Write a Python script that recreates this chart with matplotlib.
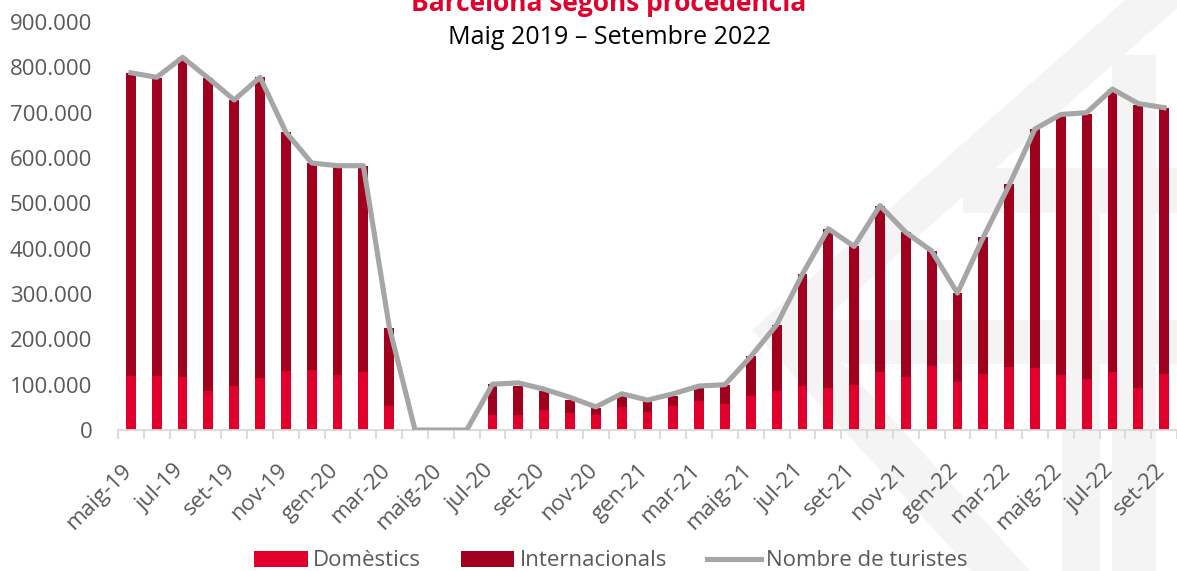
import numpy as np
import matplotlib.pyplot as plt
from matplotlib.patches import Patch, Polygon
from matplotlib.lines import Line2D
from matplotlib.transforms import ScaledTranslation

plt.rcParams['font.family'] = ['Open Sans', 'DejaVu Sans']

# mesos, maig 2019 - setembre 2022
mesos = ['maig-19', 'jun-19', 'jul-19', 'ago-19', 'set-19', 'oct-19', 'nov-19', 'des-19',
         'gen-20', 'feb-20', 'mar-20', 'abr-20', 'maig-20', 'jun-20', 'jul-20', 'ago-20',
         'set-20', 'oct-20', 'nov-20', 'des-20', 'gen-21', 'feb-21', 'mar-21', 'abr-21',
         'maig-21', 'jun-21', 'jul-21', 'ago-21', 'set-21', 'oct-21', 'nov-21', 'des-21',
         'gen-22', 'feb-22', 'mar-22', 'abr-22', 'maig-22', 'jun-22', 'jul-22', 'ago-22',
         'set-22']

# milers de turistes
domestics = [120, 120, 118, 86, 98, 114, 130, 132, 122, 127, 54, 0, 0, 0, 33, 33,
             44, 37, 33, 51, 40, 53, 63, 57, 74, 87, 98, 93, 99, 129, 118, 142,
             105, 123, 138, 137, 122, 113, 127, 93, 123]
internacionals = [667, 656, 704, 690, 630, 664, 527, 457, 459, 456, 172, 0, 0, 0, 68, 64,
                  41, 29, 16, 23, 23, 21, 29, 42, 89, 145, 246, 351, 306, 366, 318, 253,
                  197, 302, 404, 527, 570, 585, 625, 625, 587]
turistes = [788, 778, 822, 776, 728, 778, 657, 589, 583, 583, 228, 0, 0, 0, 101, 104,
            90, 72, 51, 80, 66, 80, 97, 100, 162, 232, 344, 444, 405, 495, 436, 395,
            302, 425, 540, 664, 696, 700, 752, 720, 711]

dom = np.array(domestics) * 1000
intl = np.array(internacionals) * 1000
tot = np.array(turistes) * 1000

C_DOM = '#e0002b'
C_INT = '#9e001e'
C_LIN = '#a6a6a6'
C_TXT = '#595959'

W, H = 1177, 571
fig = plt.figure(figsize=(W / 100, H / 100), dpi=100)

# marca d'aigua (logo) al fons
def px(pts):
    return [(a / W, 1 - b / H) for a, b in pts]

marca = [
    [(1125, 0), (1177, 0), (1177, 8), (812, 330), (1030, 571), (972, 571), (752, 330)],
    [(963, 168), (1177, 168), (1177, 213), (963, 213)],
    [(812, 320), (1177, 320), (1177, 364), (812, 364)],
    [(1112, 55), (1156, 55), (1156, 571), (1112, 571)],
    [(1062, 213), (1100, 213), (1100, 571), (1062, 571)],
]
for pts in marca:
    fig.patches.append(Polygon(px(pts), closed=True, transform=fig.transFigure,
                               facecolor='#f4f4f4', edgecolor='none', zorder=-5))

ax = fig.add_axes([118 / W, (H - 430) / H, 1059 / W, 408 / H])
ax.patch.set_alpha(0)

x = np.arange(len(mesos))
ax.bar(x, dom, width=0.38, color=C_DOM, zorder=2)
ax.bar(x, intl, bottom=dom, width=0.38, color=C_INT, zorder=2)
ax.plot(x, tot, color=C_LIN, lw=3.7, zorder=3, solid_joinstyle='round')

ax.set_xlim(-0.5, len(mesos) - 0.5)
ax.set_ylim(0, 900000)

for s in ['top', 'right', 'left']:
    ax.spines[s].set_visible(False)
ax.spines['bottom'].set_color('#d9d9d9')
ax.spines['bottom'].set_linewidth(1.3)

yt = np.arange(0, 900001, 100000)
ax.set_yticks(yt)
ax.set_yticklabels([f'{int(v):,}'.replace(',', '.') for v in yt])
ax.tick_params(axis='y', length=0, pad=18.5, labelsize=16, labelcolor=C_TXT)

ax.set_xticks(x[::2])
ax.set_xticklabels(mesos[::2], rotation=45, rotation_mode='anchor', ha='right', va='center')
ax.set_xticks(np.arange(-0.5, len(mesos), 1), minor=True)
ax.tick_params(axis='x', which='major', length=0, pad=27, labelsize=16, labelcolor=C_TXT)
ax.tick_params(axis='x', which='minor', length=6.5, width=1.3, color='#d9d9d9')
off = ScaledTranslation(-2 / 100, 0, fig.dpi_scale_trans)
for lab in ax.get_xticklabels():
    lab.set_transform(lab.get_transform() + off)

fig.text(609 / W, 1 - 11 / H, 'Barcelona segons procedència', ha='center', va='baseline',
         fontsize=19, fontweight='bold', color=C_DOM)
fig.text(609 / W, 1 - 38 / H, 'Maig 2019 – Setembre 2022', ha='center', va='center',
         fontsize=18, color='black')

handles = [Patch(facecolor=C_DOM), Patch(facecolor=C_INT), Line2D([], [], color=C_LIN, lw=3.7)]
fig.legend(handles, ['Domèstics', 'Internacionals', 'Nombre de turistes'],
           loc='center', bbox_to_anchor=(611 / W, 1 - 561 / H), ncol=3, frameon=False,
           fontsize=16, labelcolor=C_TXT, handlelength=2.4, handleheight=0.75,
           handletextpad=0.25, columnspacing=1.8, borderpad=0)

fig.savefig('out.png', dpi=100)
